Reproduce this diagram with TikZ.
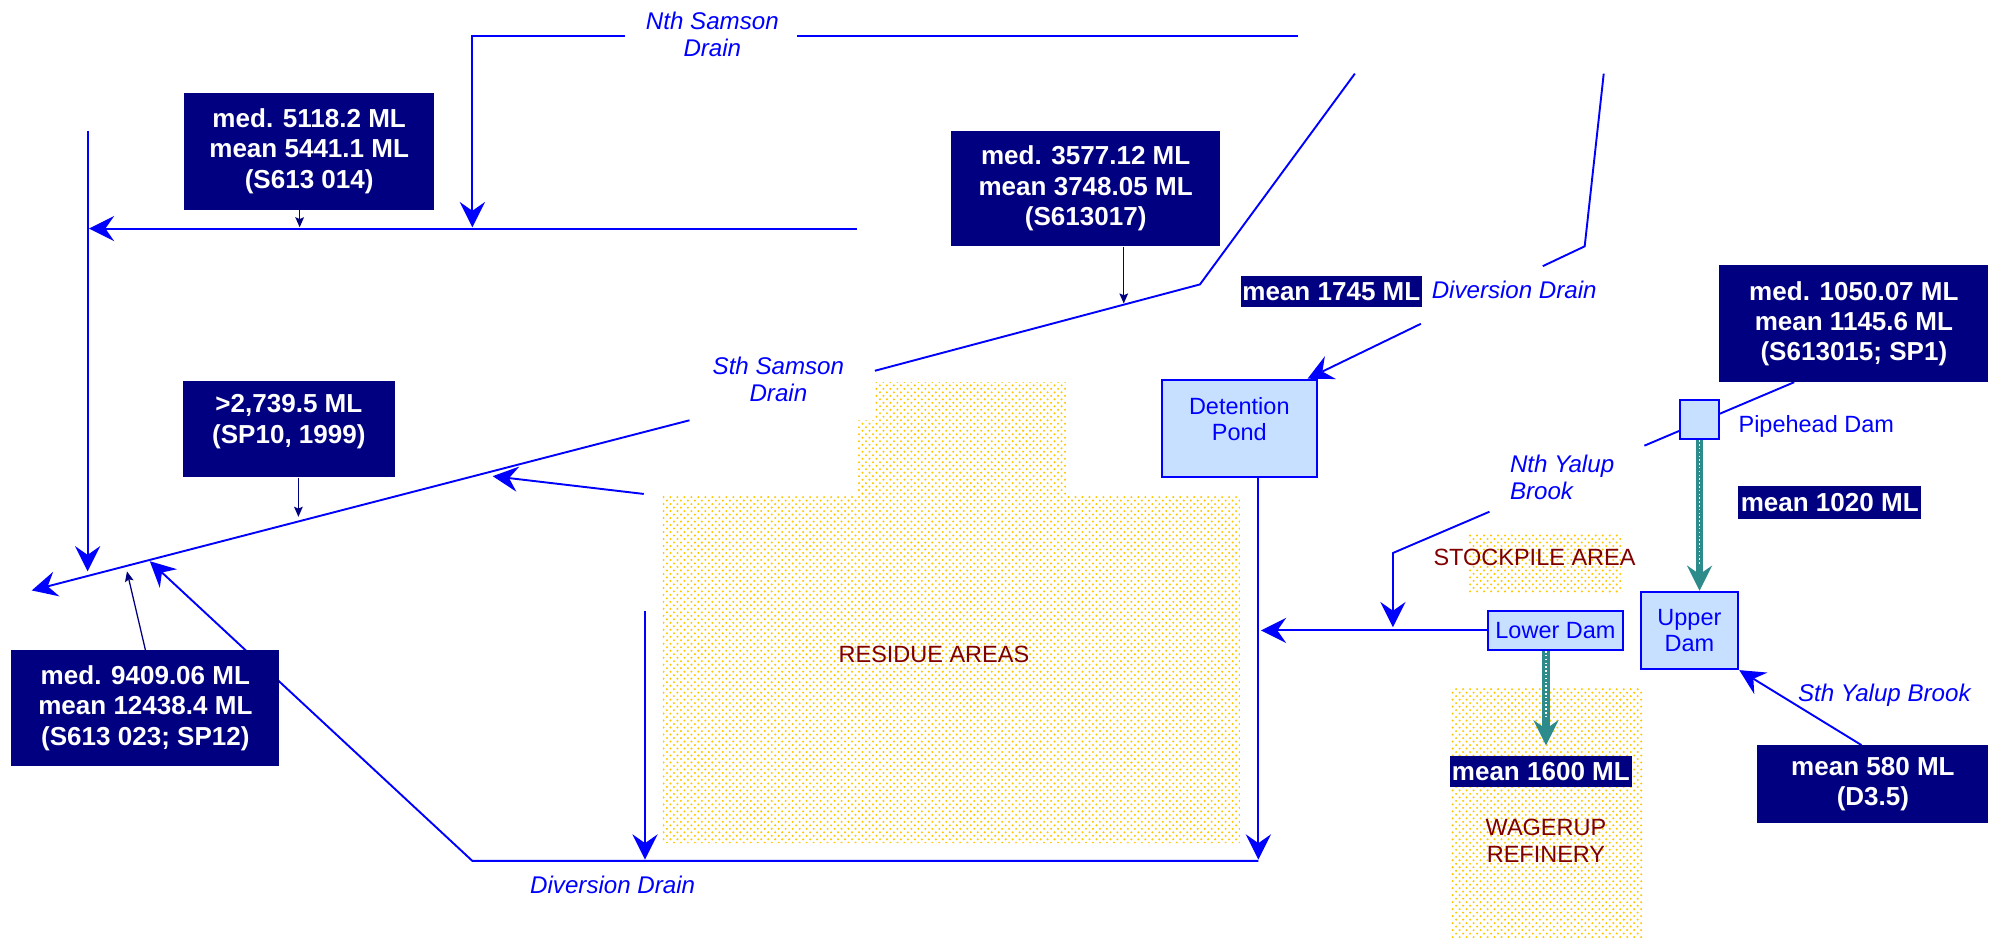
\documentclass[tikz,border=0pt]{standalone}
\usepackage{fontspec}
\setmainfont{Liberation Sans}
\usetikzlibrary{arrows.meta,patterns}
\definecolor{navyc}{HTML}{000080}
\definecolor{flowblue}{HTML}{0000FF}
\definecolor{paleblue}{HTML}{C8E0FF}
\definecolor{maroonc}{HTML}{800000}
\definecolor{dotyellow}{HTML}{FFC800}
\definecolor{tealc}{HTML}{2E8B8B}
\newcommand\cellfont{\fontsize{20.5}{24}\selectfont\bfseries}
\newcommand\drainfont{\fontsize{19}{21}\selectfont\itshape}
\newcommand\pondfont{\fontsize{18.5}{21}\selectfont}
\newcommand\zonefont{\fontsize{18.5}{21}\selectfont}
\pgfdeclarepatternformonly{zonedots}{\pgfqpoint{-1pt}{-1pt}}{\pgfqpoint{6.5pt}{6.5pt}}{\pgfqpoint{5.5pt}{5.5pt}}{%
  \pgfpathcircle{\pgfqpoint{0pt}{0pt}}{0.9pt}%
  \pgfpathcircle{\pgfqpoint{2.75pt}{2.75pt}}{0.9pt}%
  \pgfusepath{fill}}
\pgfdeclarelayer{lines}
\pgfsetlayers{lines,main}
\begin{document}
\begin{tikzpicture}[x=1pt, y=-1pt,
  navybox/.style={fill=navyc, text=white, font=\cellfont, align=center, inner sep=0pt},
  boxtext/.style={text=white, font=\cellfont, align=center, inner sep=0pt},
  pondbox/.style={fill=paleblue, draw=flowblue, line width=1.5pt, inner sep=0pt, text=flowblue, font=\pondfont, align=center},
  pondtext/.style={text=flowblue, font=\pondfont, align=center, inner sep=0pt},
  flow/.style={draw=flowblue, line width=1.5pt},
  flowarrow/.style={flow, -{Stealth[length=20pt,width=20pt,inset=7pt,line width=0pt]}},
  gauge/.style={draw=navyc, line width=1pt, -{Stealth[length=8pt,width=7pt,inset=1.5pt,line width=0pt]}},
  drainlabel/.style={text=flowblue, font=\drainfont, align=center, inner sep=0pt},
  zonelabel/.style={text=maroonc, font=\zonefont, align=center, inner sep=0pt},
  zone/.style={pattern=zonedots, pattern color=dotyellow},
  pipeflow/.style={draw=tealc, line width=6pt, -{Stealth[length=20pt,width=20pt,inset=7pt,line width=0pt]},
    postaction={draw=white, line width=1.2pt, dash pattern=on 1.2pt off 1.8pt, shorten >=21pt, -}}]
\path[use as bounding box] (0,0) rectangle (1568,738);

% ---- gauge boxes
\node[navybox, minimum width=197pt, minimum height=92pt] (b5118) at (243.5,119) {med. 5118.2 ML\\mean 5441.1 ML\\(S613 014)};
\node[navybox, minimum width=212pt, minimum height=91pt] (b3577) at (855,148.5) {med. 3577.12 ML\\mean 3748.05 ML\\(S613017)};
\node[navybox, minimum width=167pt, minimum height=76pt] (b2739) at (227.5,338) {};
\node[boxtext] (b2739t) at (227.5,332) {>2,739.5 ML\\(SP10, 1999)};
\node[navybox, minimum width=211pt, minimum height=91pt] (b9409) at (114.5,557.5) {med. 9409.06 ML\\mean 12438.4 ML\\(S613 023; SP12)};
\node[navybox, minimum width=143pt, minimum height=25pt] (b1745) at (1048.5,229.5) {mean 1745 ML};
\node[navybox, minimum width=212pt, minimum height=92pt] (b1050) at (1460,255) {med. 1050.07 ML\\mean 1145.6 ML\\(S613015; SP1)};
\node[navybox, minimum width=144pt, minimum height=26pt] (b1020) at (1441,396) {mean 1020 ML};
\node[navybox, minimum width=143pt, minimum height=25pt] (b1600) at (1213.5,607.5) {mean 1600 ML};
\node[navybox, minimum width=182pt, minimum height=61pt] (b580) at (1475,617.5) {mean 580 ML\\(D3.5)};

% ---- ponds and dams
\node[pondbox, minimum width=122pt, minimum height=77pt] (pond) at (976,337.5) {};
\node[pondtext] (pondt) at (976,330) {Detention\\Pond};
\node[pondbox, minimum width=31pt, minimum height=31pt] (pipe) at (1338.5,330.5) {};
\node[pondbox, minimum width=77pt, minimum height=61pt] (upper) at (1330.5,496.5) {Upper\\Dam};
\node[pondbox, minimum width=106pt, minimum height=31pt] (lower) at (1225,496.5) {Lower Dam};

% ---- labels
\node[drainlabel] (nslbl) at (561,27) {Nth Samson\\Drain};
\node[drainlabel] (sslbl) at (613,299) {Sth Samson\\Drain};
\node[drainlabel] (ddlbl) at (1192.5,228) {Diversion Drain};
\node[drainlabel] (ddlbl2) at (482.5,697) {Diversion Drain};
\node[drainlabel, align=left, anchor=west] (nylbl) at (1189,376) {Nth Yalup\\Brook};
\node[drainlabel] (sylbl) at (1484,547.5) {Sth Yalup Brook};
\node[pondtext, anchor=west] (pdlbl) at (1369,336) {Pipehead Dam};
\node[zonelabel] (reslbl) at (735.5,515) {RESIDUE AREAS};
\node[zonelabel] (stklbl) at (1208.5,439) {STOCKPILE AREA};
\node[zonelabel] (waglbl) at (1217.5,662) {WAGERUP\\REFINERY};

% ---- free ends
\coordinate (nsE) at (1022,28);
\coordinate (nsG1) at (628,28);
\coordinate (nsG2) at (492,28);
\coordinate (nsW) at (372,28);
\coordinate (nsJ) at (372,179);
\coordinate (uhE) at (675,180);
\coordinate (uhW) at (70,180);
\coordinate (lvT) at (69,103);
\coordinate (lvB) at (69,450);
\coordinate (ssT) at (1067,58);
\coordinate (ssB) at (945,224);
\coordinate (ssG1) at (689,292);
\coordinate (ssG2) at (543,331);
\coordinate (ssW) at (25,465);
\coordinate (resA) at (507,389);
\coordinate (resT) at (388,375);
\coordinate (ddE) at (991,678);
\coordinate (ddC) at (372,678);
\coordinate (ddT) at (118,442);
\coordinate (rvT) at (508,481);
\coordinate (rvB) at (508,677);
\coordinate (pondB) at (991,677);
\coordinate (ddrT) at (1263,58);
\coordinate (ddrB) at (1248,194);
\coordinate (ddrG1) at (1215,209.6);
\coordinate (ddrG2) at (1119,255);
\coordinate (ldT) at (993,496.5);
\coordinate (nyT) at (1413,301);
\coordinate (nyG1) at (1295,351);
\coordinate (nyG2) at (1173,403);
\coordinate (nyB) at (1097,435.5);
\coordinate (nyJ) at (1097,494);
\coordinate (lpT) at (1217.5,587);
\coordinate (g1) at (236,179);
\coordinate (g2) at (885,239);
\coordinate (g3) at (235,407);
\coordinate (g4) at (100,450);

\begin{pgfonlayer}{lines}
% areas
\path[zone] (522,390) -- (675,390) -- (675,331) -- (689,331) -- (689,301) -- (840,301) -- (840,390) -- (977,390) -- (977,664) -- (522,664) -- cycle;
\path[zone] (1157,421) rectangle (1278,467);
\path[zone] (1142,542) rectangle (1294,738);
% drains
\draw[flow] (nsE) -- (nsG1);
\draw[flowarrow] (nsG2) -- (nsW) -- (nsJ);
\draw[flowarrow] (uhE) -- (uhW);
\draw[flowarrow] (lvT) -- (lvB);
\draw[flow] (ssT) -- (ssB) -- (ssG1);
\draw[flowarrow] (ssG2) -- (ssW);
\draw[flowarrow] (resA) -- (resT);
\draw[flowarrow] (ddE) -- (ddC) -- (ddT);
\draw[flowarrow] (rvT) -- (rvB);
\draw[flowarrow] (pondB |- pond.south) -- (pondB);
\draw[flow] (ddrT) -- (ddrB) -- (ddrG1);
\draw[flowarrow] (ddrG2) -- ([xshift=-8pt]pond.north east);
\draw[flowarrow] (lower.west) -- (ldT);
\draw[flow] (nyT) -- (nyG1);
\draw[flowarrow] (nyG2) -- (nyB) -- (nyJ);
\draw[flowarrow] ([xshift=-9pt]b580.north) -- (upper.south east);
% pipes
\draw[pipeflow] (pipe.south) -- (pipe.south |- upper.north);
\draw[pipeflow] (lower.south -| lpT) -- (lpT);
% gauges
\draw[gauge] (b5118.south -| g1) -- (g1);
\draw[gauge] (b3577.south -| g2) -- (g2);
\draw[gauge] (b2739.south -| g3) -- (g3);
\draw[gauge] (b9409.north) -- (g4);
\end{pgfonlayer}
\end{tikzpicture}
\end{document}
